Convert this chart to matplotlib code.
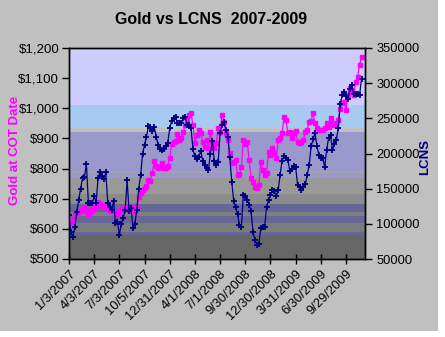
import matplotlib
matplotlib.use("Agg")
import matplotlib.pyplot as plt
from matplotlib.patches import Rectangle
from matplotlib.ticker import FuncFormatter

plt.rcParams['font.family'] = ['Liberation Sans', 'DejaVu Sans']

# ---- data (weekly COT dates, Jan 2007 - Nov 2009) ----
gold = [632, 624, 627, 645, 651, 657, 663, 665, 668, 660,
        646, 655, 663, 668, 676, 690, 684, 680, 674, 672,
        665, 659, 662, 660, 650, 645, 655, 664, 668, 674,
        668, 664, 672, 668, 657, 672, 705, 718, 729, 735,
        742, 762, 760, 784, 825, 810, 801, 806, 817, 801,
        802, 810, 834, 880, 889, 890, 915, 895, 900, 922,
        945, 961, 978, 983, 945, 884, 911, 928, 917, 889,
        873, 895, 867, 922, 889, 867, 884, 933, 922, 978,
        955, 917, 895, 851, 817, 823, 828, 779, 782, 806,
        895, 880, 889, 828, 768, 757, 740, 734, 745, 823,
        795, 779, 784, 856, 845, 867, 851, 834, 895, 900,
        917, 972, 961, 917, 922, 900, 919, 926, 889, 884,
        889, 895, 922, 928, 956, 959, 983, 950, 933, 928,
        928, 928, 933, 950, 939, 967, 950, 945, 950, 961,
        998, 1017, 1022, 994, 1044, 1066, 1060, 1044, 1088, 1105,
        1144, 1171]

lcns_k = [112, 88, 81, 95, 117, 134, 150, 165, 167, 185,
          130, 129, 129, 139, 130, 165, 173, 168, 164, 173,
          130, 124, 120, 132, 101, 103, 84, 100, 108, 120,
          162, 118, 122, 94, 100, 120, 150, 170, 200, 212,
          224, 239, 238, 232, 238, 224, 212, 207, 205, 207,
          211, 215, 236, 246, 250, 252, 244, 243, 243, 250,
          252, 241, 240, 236, 206, 196, 192, 195, 204, 190,
          184, 180, 177, 200, 218, 190, 184, 188, 229, 240,
          245, 234, 224, 195, 160, 133, 124, 114, 98, 96,
          141, 140, 134, 127, 118, 88, 77, 70, 71, 94,
          96, 96, 124, 134, 141, 148, 146, 139, 148, 170,
          190, 196, 193, 191, 175, 178, 182, 181, 155, 152,
          148, 152, 156, 170, 184, 210, 220, 229, 210, 198,
          193, 193, 181, 205, 222, 226, 205, 213, 219, 236,
          270, 283, 288, 282, 278, 292, 297, 284, 284, 284,
          283, 306]
lcns = [v * 1000 for v in lcns_k]

tick_labels = ["1/3/2007", "4/3/2007", "7/3/2007", "10/5/2007", "12/31/2007",
               "4/1/2008", "7/1/2008", "9/30/2008", "12/30/2008", "3/31/2009",
               "6/30/2009", "9/29/2009"]
tick_step = 13

# background bands (bottom, top, colour) in gold-axis units
bands = [(500, 579, '#666666'), (579, 590, '#666699'), (590, 620, '#7b7b7b'),
         (620, 643, '#666699'), (643, 656, '#808080'), (656, 683, '#666699'),
         (683, 716, '#8c8c8c'), (716, 770, '#999999'), (770, 784, '#9999cc'),
         (784, 792, '#a3a3a3'), (792, 920, '#9999cc'), (920, 933, '#c0c0c0'),
         (933, 1011, '#a6caf0'), (1011, 1200, '#ccccff')]

W, H = 445, 337
fig = plt.figure(figsize=(W / 100, H / 100), dpi=100)
fig.patch.set_facecolor('white')
fig.patches.append(Rectangle((0, 1 - 331 / H), 438 / W, 331 / H,
                             transform=fig.transFigure, facecolor='#c0c0c0',
                             edgecolor='none', zorder=-10))

ax = fig.add_axes([69 / W, 1 - 259 / H, 296 / W, 211 / H])
for b0, b1, c in bands:
    ax.axhspan(b0, b1, color=c, lw=0, zorder=0)

x = list(range(len(gold)))
ax.plot(x, gold, color='#ff00ff', lw=0.9, marker='s', ms=3.2,
        mec='#ff00ff', mfc='#ff00ff', zorder=3)
ax.set_ylim(500, 1200)
ax.set_yticks(range(500, 1201, 100))
ax.yaxis.set_major_formatter(FuncFormatter(lambda v, p: "${:,.0f}".format(v)))
ax.set_xlim(0, 152.8)
ax.set_xticks([i * tick_step for i in range(len(tick_labels))])
ax.set_xticklabels(tick_labels, rotation=45, ha='right', va='top',
                   rotation_mode='anchor')
ax.tick_params(axis='x', direction='inout', length=7, width=1, labelsize=9.3, pad=3)
ax.tick_params(axis='y', direction='out', length=5, width=1, labelsize=9.6, pad=2)

ax2 = ax.twinx()
ax2.plot(x, lcns, color='#000080', lw=0.9, marker='+', ms=4, mew=1.3, zorder=4)
ax2.set_ylim(50000, 350000)
ax2.set_yticks(range(50000, 350001, 50000))
ax2.tick_params(axis='y', direction='out', length=5, width=1, labelsize=9.3, pad=3)

for a in (ax, ax2):
    for s in a.spines.values():
        s.set_color('black')
        s.set_linewidth(1)

fig.text(211 / W, 1 - 19 / H, "Gold vs LCNS  2007-2009", ha='center', va='center',
         fontsize=11.5, fontweight='bold')
fig.text(15 / W, 1 - 150 / H, "Gold at COT Date", rotation=90, ha='center',
         va='center', fontsize=9.5, fontweight='bold', color='#ff00ff')
fig.text(425 / W, 1 - 157 / H, "LCNS", rotation=90, ha='center',
         va='center', fontsize=9.5, fontweight='bold', color='#000080')

fig.savefig("out.png", dpi=100)
